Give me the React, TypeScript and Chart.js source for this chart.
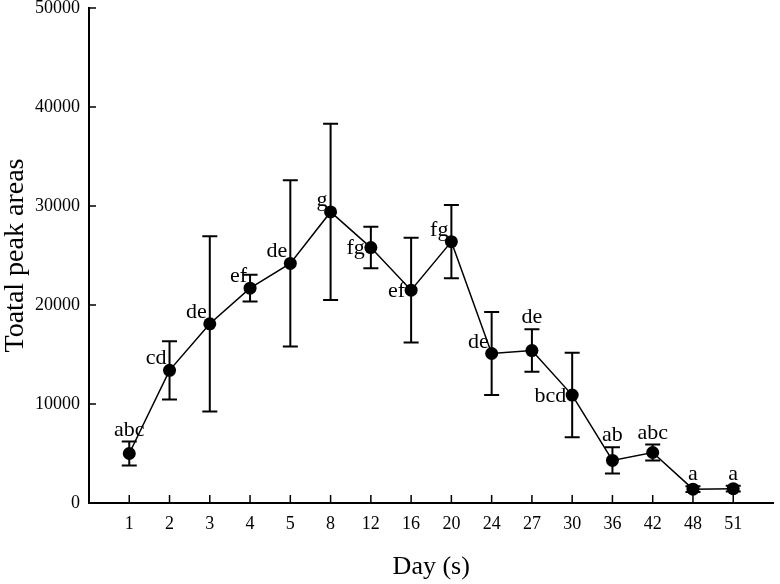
import React, { useEffect, useRef } from 'react';
import { Chart, registerables } from 'chart.js';
Chart.register(...registerables);

const days = ['1', '2', '3', '4', '5', '8', '12', '16', '20', '24', '27', '30', '36', '42', '48', '51'];
const means = [5000, 13400, 18100, 21700, 24200, 29400, 25800, 21500, 26400, 15100, 15400, 10900, 4300, 5100, 1400, 1450];
const errors = [1200, 2950, 8850, 1350, 8400, 8900, 2100, 5300, 3700, 4200, 2150, 4270, 1330, 800, 300, 300];
const letters = ['abc', 'cd', 'de', 'ef', 'de', 'g', 'fg', 'ef', 'fg', 'de', 'de', 'bcd', 'ab', 'abc', 'a', 'a'];
const letterPlacement = ['top', 'topleft', 'topleft', 'topleft', 'topleft', 'topleft', 'left', 'left', 'topleft', 'topleft', 'top', 'left', 'top', 'top', 'top', 'top'];
const yTicks = [0, 10000, 20000, 30000, 40000, 50000];
const xTitle = 'Day (s)';
const yTitle = 'Toatal peak areas';

const FONT = "'Liberation Serif', 'Times New Roman', serif";

const annotatePlugin = {
  id: 'annotate',
  beforeDatasetsDraw(chart: any) {
    const ctx = chart.ctx;
    const xs = chart.scales.x;
    const ys = chart.scales.y;
    const area = chart.chartArea;
    ctx.save();
    ctx.strokeStyle = '#000';
    ctx.lineWidth = 1.5;
    ctx.beginPath();
    yTicks.forEach((v) => {
      const py = ys.getPixelForValue(v);
      ctx.moveTo(area.left, py);
      ctx.lineTo(area.left + 7, py);
    });
    days.forEach((_, i) => {
      const px = xs.getPixelForValue(i + 1);
      ctx.moveTo(px, area.bottom);
      ctx.lineTo(px, area.bottom - 8);
    });
    ctx.stroke();
    ctx.lineWidth = 2;
    ctx.beginPath();
    means.forEach((m, i) => {
      const px = xs.getPixelForValue(i + 1);
      const t = ys.getPixelForValue(m + errors[i]);
      const b = ys.getPixelForValue(m - errors[i]);
      ctx.moveTo(px, t);
      ctx.lineTo(px, b);
      ctx.moveTo(px - 7.5, t);
      ctx.lineTo(px + 7.5, t);
      ctx.moveTo(px - 7.5, b);
      ctx.lineTo(px + 7.5, b);
    });
    ctx.stroke();
    ctx.restore();
  },
  afterDraw(chart: any) {
    const ctx = chart.ctx;
    const xs = chart.scales.x;
    const ys = chart.scales.y;
    const area = chart.chartArea;
    ctx.save();
    ctx.fillStyle = '#000';
    ctx.font = `22px ${FONT}`;
    letters.forEach((txt, i) => {
      const px = xs.getPixelForValue(i + 1);
      const py = ys.getPixelForValue(means[i]);
      const place = letterPlacement[i];
      if (place === 'top') {
        ctx.textAlign = 'center';
        ctx.textBaseline = 'alphabetic';
        ctx.fillText(txt, px, ys.getPixelForValue(means[i] + errors[i]) - 6);
      } else if (place === 'topleft') {
        ctx.textAlign = 'right';
        ctx.textBaseline = 'alphabetic';
        ctx.fillText(txt, px - 3, py - 6);
      } else {
        ctx.textAlign = 'right';
        ctx.textBaseline = 'middle';
        ctx.fillText(txt, px - 6, py + 1);
      }
    });
    ctx.font = `26px ${FONT}`;
    ctx.textAlign = 'center';
    ctx.textBaseline = 'middle';
    ctx.fillText(xTitle, (area.left + area.right) / 2, 567);
    ctx.font = `28px ${FONT}`;
    ctx.translate(16, (area.top + area.bottom) / 2);
    ctx.rotate(-Math.PI / 2);
    ctx.fillText(yTitle, 0, 0);
    ctx.restore();
  },
};

export default function App() {
  const ref = useRef<HTMLCanvasElement>(null);
  useEffect(() => {
    if (!ref.current) return;
    const chart = new Chart(ref.current, {
      type: 'line',
      data: {
        datasets: [
          {
            data: means.map((m, i) => ({ x: i + 1, y: m })),
            borderColor: '#000',
            borderWidth: 1.5,
            backgroundColor: '#000',
            pointBackgroundColor: '#000',
            pointBorderWidth: 0,
            pointRadius: 6.5,
            tension: 0,
          },
        ],
      },
      options: {
        responsive: false,
        animation: false,
        layout: { padding: { top: 8, right: 2, left: 0, bottom: 0 } },
        plugins: { legend: { display: false }, tooltip: { enabled: false } },
        scales: {
          x: {
            type: 'linear',
            min: 0,
            max: 17,
            afterBuildTicks: (s: any) => {
              s.ticks = days.map((_, i) => ({ value: i + 1 }));
            },
            afterFit: (s: any) => {
              s.height = 81;
              s.paddingLeft = 0;
              s.paddingRight = 0;
            },
            ticks: {
              autoSkip: false,
              maxRotation: 0,
              color: '#000',
              padding: 10,
              font: { family: FONT, size: 18 },
              callback: (v: any) => days[Number(v) - 1] ?? '',
            },
            grid: { display: false, drawTicks: false },
            border: { display: true, color: '#000', width: 2 },
          },
          y: {
            min: 0,
            max: 50000,
            afterBuildTicks: (s: any) => {
              s.ticks = yTicks.map((v) => ({ value: v }));
            },
            afterFit: (s: any) => {
              s.width = 89;
              s.paddingTop = 0;
              s.paddingBottom = 0;
            },
            ticks: {
              color: '#000',
              padding: 9,
              font: { family: FONT, size: 18 },
              callback: (v: any) => String(v),
            },
            grid: { display: false, drawTicks: false },
            border: { display: true, color: '#000', width: 2 },
          },
        },
      },
      plugins: [annotatePlugin],
    });
    return () => chart.destroy();
  }, []);
  return (
    <div style={{ position: 'fixed', left: 0, top: 0, width: 780, height: 584, background: '#fff' }}>
      <canvas ref={ref} width={780} height={584} />
    </div>
  );
}
